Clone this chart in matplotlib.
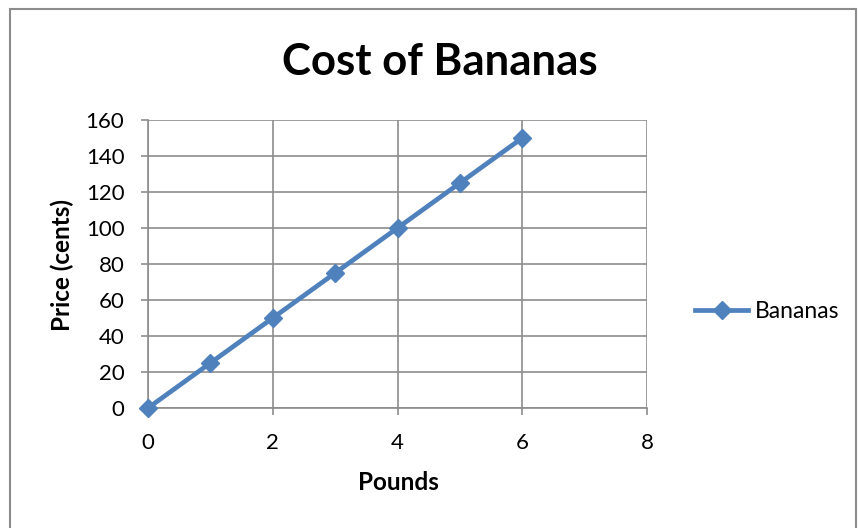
import matplotlib
matplotlib.use("Agg")
import matplotlib.pyplot as plt
from matplotlib.patches import Rectangle

pounds = [0, 1, 2, 3, 4, 5, 6]
price_cents = [0, 25, 50, 75, 100, 125, 150]
series_name = "Bananas"
x_ticks = [0, 2, 4, 6, 8]
y_ticks = [0, 20, 40, 60, 80, 100, 120, 140, 160]

plt.rcParams['font.family'] = ['Lato', 'DejaVu Sans']
W, H = 858, 528
fig = plt.figure(figsize=(W / 100, H / 100), dpi=100)
fig.patch.set_facecolor('white')

# outer chart border
fig.patches.append(Rectangle((10 / W, -0.01), (856 - 10) / W, (H - 9) / H + 0.01,
                             transform=fig.transFigure, fill=False,
                             edgecolor='#8c8c8c', linewidth=1.5))

ax = fig.add_axes([148 / W, 1 - 408 / H, (647 - 148) / W, (408 - 120) / H])
color = '#4F81BD'
line, = ax.plot(pounds, price_cents, color=color, linewidth=3.4, marker='D',
                markersize=9.5, markerfacecolor=color, markeredgecolor=color,
                label=series_name, clip_on=False, zorder=5)

ax.set_xlim(0, 8)
ax.set_ylim(0, 160)
ax.set_xticks(x_ticks)
ax.set_yticks(y_ticks)
ax.grid(True, color='#8c8c8c', linewidth=1.2)
ax.set_axisbelow(True)
for s in ['top', 'right']:
    ax.spines[s].set_visible(False)
for s in ['left', 'bottom']:
    ax.spines[s].set_color('#8c8c8c')
    ax.spines[s].set_linewidth(1.2)
ax.tick_params(axis='both', colors='#8c8c8c', length=5, width=1.2, labelcolor='black',
               labelsize=16)
ax.tick_params(axis='x', pad=13)
ax.tick_params(axis='y', pad=12)

fig.text(440 / W, 1 - 62 / H, "Cost of Bananas", ha='center', va='center',
         fontsize=31.5, fontweight='bold')
fig.text(398 / W, 1 - 483 / H, "Pounds", ha='center', va='center',
         fontsize=17.5, fontweight='bold')
fig.text(62 / W, 1 - 265 / H, "Price (cents)", ha='center', va='center',
         fontsize=17.5, fontweight='bold', rotation=90)

leg = fig.legend(handles=[line], loc='center left', bbox_to_anchor=(684 / W, 1 - 312 / H),
                 frameon=False, fontsize=16.5, handlelength=2.3, handletextpad=0.3,
                 borderpad=0)

fig.savefig('out.png', dpi=100)
